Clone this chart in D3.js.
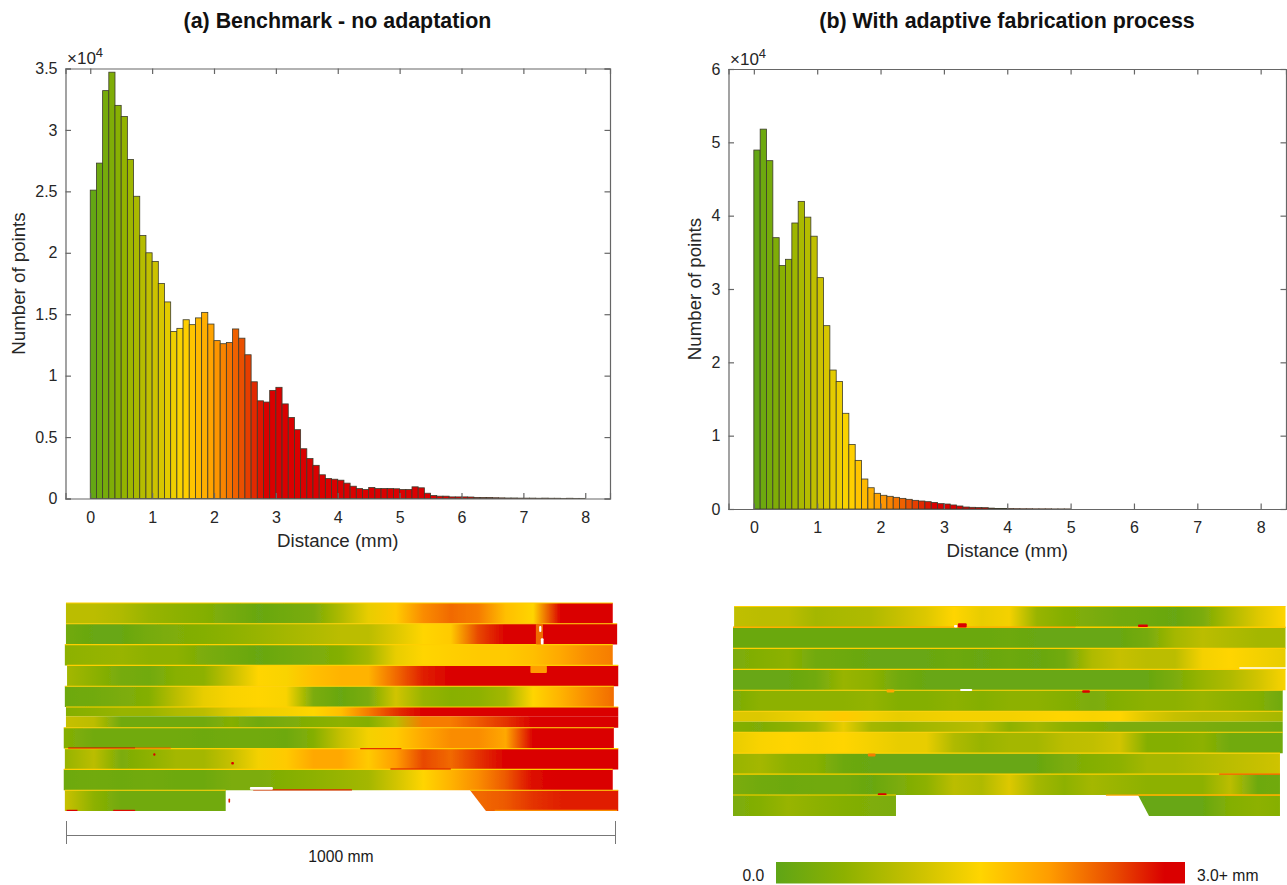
<!DOCTYPE html>
<html lang="en">
<head>
<meta charset="utf-8">
<script src="https://d3js.org/d3.v7.min.js"></script>
<style>
body { margin: 0; background: #fff; }
svg { display: block; }
text { font-family: "Liberation Sans", Arial, sans-serif; fill: #262626; }
.axis path, .axis line { stroke: #666; stroke-width: 1.2; fill: none; }
.axis text { font-size: 16px; fill: #262626; font-family: "Liberation Sans", Arial, sans-serif; }
.title { font-size: 21.4px; font-weight: bold; fill: #111; }
.label { font-size: 18.7px; }
.note { font-size: 15.7px; fill: #1a1a1a; }
</style>
</head>
<body>
<svg id="chart" width="1287" height="885"></svg>
<script>
// histogram counts, in units of 10^4, one value per 0.1 mm bin
var benchCounts = [2.51,2.73,3.32,3.47,3.20,3.11,2.76,2.46,2.14,2.00,1.93,1.75,1.60,1.36,1.385,1.455,1.415,1.47,1.515,1.42,
  1.285,1.26,1.27,1.38,1.305,1.17,0.95,0.795,0.785,0.88,0.905,0.77,0.66,0.56,0.405,0.325,0.27,0.193,0.163,0.157,
  0.149,0.125,0.10,0.081,0.073,0.09,0.081,0.081,0.081,0.079,0.073,0.073,0.095,0.087,0.043,0.024,0.019,0.019,0.013,0.013,
  0.013,0.012,0.009,0.008,0.008,0.006,0.005,0.004,0.004,0.003,0.003,0.003,0.002,0.003,0.002,0.002,0.001,0.002,0.001,0.001];
var adaptCounts = [4.895,5.18,4.75,3.70,3.32,3.405,3.90,4.195,3.98,3.72,3.155,2.50,1.895,1.74,1.305,0.88,0.663,0.409,0.29,0.214,
  0.187,0.173,0.159,0.145,0.132,0.118,0.109,0.10,0.09,0.073,0.068,0.055,0.041,0.027,0.023,0.02,0.018,0.012,0.008,0.006,
  0.005,0.004,0.003,0.003,0.002,0.002,0.002,0.001,0.001,0.001];

var xTicks = [0,1,2,3,4,5,6,7,8];
var benchYTicks = [0,0.5,1,1.5,2,2.5,3,3.5];
var adaptYTicks = [0,1,2,3,4,5,6];

// colour map: distance in mm -> colour
var colorStops = [0,0.5,1,1.5,2,2.5,2.85,3];
var colorValues = ["#5fa516","#8db100","#c6c000","#ffd500","#ff9d00","#e84800","#da0000","#da0000"];

// scan strips: distance (mm) sampled every 50 mm along the 1000 mm panel. Null = no material
var sampleMm = d3.range(21).map(function(i) { return i * 50; });
var benchStrips = [
  [0.9,0.9,0.8,0.6,0.5,0.4,0.25,0.1,0.2,0.3,0.8,1.3,1.6,2.1,2.3,2.2,1.7,1.5,3,3,3],
  [0.2,0.1,0.1,0.25,0.35,0.4,0.5,0.6,0.7,0.8,0.9,0.9,1.2,1.5,1.6,2.5,3,3,3,3,3],
  [0.5,0.55,0.6,0.5,0.5,0.3,0.2,0.1,0.2,0.3,0.4,0.7,1.3,1.5,1.55,1.6,1.6,1.7,1.9,2.1,2.2],
  [0.7,0.5,0.25,0.2,0.45,0.5,1.0,1.5,1.45,1.7,1.8,1.8,2.3,2.7,3,3,3,3,3,3,3],
  [0.15,0.2,0.3,0.4,0.9,1.3,1.45,1.5,1.45,0.3,0.1,0.3,1.1,0.6,0.45,0.5,0.7,1.5,1.8,2.1,2.3],
  [0.4,0.5,0.6,0.6,0.8,0.9,1.2,1.35,1.4,1.5,1.7,2.2,2.6,3,3,3,3,3,3,3,3],
  [1.0,0.9,0.2,0.2,0.2,0.2,0.4,0.2,0.3,0.4,0.5,0.4,0.9,2.2,2.2,2.4,2.6,3,3,3,3],
  [0.4,0.2,0.2,0.2,0.2,0.15,0.2,0.2,0.15,0.4,1.0,1.4,1.6,1.9,2.1,2.1,1.9,3,3,3,3],
  [0.6,0.9,0.3,0.5,0.7,0.7,1.0,1.4,1.6,1.9,1.9,1.6,2.0,2.5,2.3,2.6,2.9,3,3,3,3],
  [0.15,0.2,0.15,0.2,0.15,0.15,0.3,0.3,0.4,0.5,0.6,0.7,1.1,1.5,1.8,2.1,2.4,2.8,3,3,3],
  [1.0,0.5,0.2,0.2,0.2,0.2,0.2,null,null,null,null,null,null,null,2.4,2.3,2.4,2.6,2.7,2.7,2.7]
];
var adaptStrips = [
  [0.95,0.9,0.9,0.7,0.75,0.8,1.0,1.2,1.5,1.3,1.4,0.6,0.4,0.3,0.2,0.15,0.1,0.3,0.8,1.2,1.5],
  [0.12,0.12,0.12,0.12,0.12,0.12,0.12,0.12,0.12,0.12,0.15,0.1,0.1,0.1,0.1,0.25,0.7,0.9,0.8,0.7,0.7],
  [0.3,0.4,0.5,0.2,0.15,0.1,0.1,0.1,0.15,0.1,0.15,0.1,0.2,0.8,1.0,0.9,0.9,1.4,1.5,1.4,1.3],
  [0.1,0.1,0.1,0.2,0.6,0.5,0.2,0.1,0.1,0.1,0.1,0.1,0.1,0.1,0.1,0.1,0.3,0.6,0.8,1.1,1.45],
  [0.3,0.5,0.5,0.5,0.5,0.55,0.4,0.4,0.5,0.4,0.5,0.5,0.4,0.3,0.4,0.5,0.5,0.6,0.5,0.4,0.15],
  [1.2,1.2,1.3,1.4,1.6,1.4,1.3,1.35,1.4,1.4,1.4,1.45,1.5,1.45,1.5,1.2,1.0,0.9,0.9,0.8,0.7],
  [0.4,0.35,0.5,0.7,1.3,0.7,0.6,0.7,0.8,0.9,0.5,0.7,0.5,0.4,0.3,0.3,0.3,0.3,0.25,0.25,0.2],
  [1.3,1.45,1.5,1.45,1.5,1.4,1.3,1.3,0.8,0.6,0.7,0.7,0.9,0.95,1.1,0.4,0.4,0.5,0.2,0.2,0.2],
  [0.6,0.7,0.5,0.45,0.15,0.1,0.1,0.1,0.1,0.1,0.1,0.1,0.3,0.4,0.5,0.7,0.7,0.8,0.9,1.0,1.1],
  [0.3,0.2,0.15,0.2,0.2,0.1,0.3,0.5,0.9,0.8,1.2,0.7,0.5,0.7,0.6,0.5,0.5,0.5,0.9,0.15,0.2],
  [0.3,0.4,0.6,0.5,0.4,0.35,0.3,null,null,null,null,null,null,null,null,0.1,0.1,0.1,0.4,0.5,0.4]
];
// row where each lane starts; row 5 is split in two lanes
var benchLaneTop = [0,1,2,3,4,5,5.45,6,7,8,9];
var adaptLaneTop = [0,1,2,3,4,5,5.5,6,7,8,9];
var benchLaneFrom = [-1,-1,-3,1,-3,-1,-1,-5,-3,-5,-3];
var benchLaneTo = [995,1003,995,1005,997,1005,1005,997,1005,995,1005];
var adaptLaneFrom = [2,0,0,0,0,0,0,0,0,0,0];
var adaptLaneTo = [1000,1000,1000,1000,995,995,995,995,990,990,990];
// last strip is two pieces: left end, then chamfer start at top and bottom
var benchCut = [290,735,764];
var adaptCut = [295,733,753];

// thin edges along the strips: row, from mm, to mm, value
var benchEdges = [
  [6.97,3,125,3],[6.97,125,190,2.4],[7.98,590,700,3],[7.0,535,610,2.6],[8.98,340,520,2.7],
  [9.97,0,20,3],[9.97,85,125,2.8],[9.97,780,1003,2.1]
];
var adaptEdges = [
  [0.98,0,620,1.9],[0.98,620,1000,1.6],[8,880,990,2.4],[9,675,990,1.9]
];
// hot spots: mm, row, width mm, height rows, colour value (null = bare)
var benchSpots = [
  [855,1.0,13,1,2.3],[861,1.1,4,0.3,null],[864,1.7,5,0.3,null],[158,7.22,4,0.12,3],[300,7.65,5,0.12,3],
  [334,8.85,42,0.13,null],[845,3.02,30,0.35,2],[295,9.4,3,0.2,2.7]
];
var adaptSpots = [
  [407,0.8,16,0.2,3],[400,0.88,6,0.12,null],[733,0.86,18,0.12,3],[411,3.94,22,0.09,null],
  [278,3.96,14,0.14,1.9],[244,7.02,14,0.14,2.2],[262,8.92,16,0.08,3],[916,2.9,90,0.07,null],[632,4.0,14,0.12,3]
];

var color = d3.scaleLinear().domain(colorStops).range(colorValues).clamp(true);
var svg = d3.select("#chart");
var defs = svg.append("defs");
defs.append("filter").attr("id", "soft").append("feGaussianBlur").attr("stdDeviation", 0.5);

function drawHist(counts, yTicks, yMax, box, title, titleX, labelX) {
  var x = d3.scaleLinear().domain([-0.4, 8.4]).range([box.left, box.right]);
  var y = d3.scaleLinear().domain([0, yMax]).range([box.bottom, box.top]);
  var g = svg.append("g");

  g.selectAll("rect.bar")
    .data(counts)
    .enter()
    .append("rect")
    .attr("class", "bar")
    .attr("x", function(d, i) { return x(i / 10); })
    .attr("y", function(d) { return y(d); })
    .attr("width", function(d, i) { return x((i + 1) / 10) - x(i / 10); })
    .attr("height", function(d) { return y(0) - y(d); })
    .style("fill", function(d, i) { return color((i + 0.5) / 10); })
    .style("stroke", "#3c3c2c")
    .style("stroke-width", 0.8);

  // box round the plot, ticks pointing in on all four sides
  g.append("g").attr("class", "axis").attr("transform", "translate(0," + box.bottom + ")")
    .call(d3.axisBottom(x).tickValues(xTicks).tickSize(-5.5).tickPadding(13).tickFormat(d3.format("d")));
  g.append("g").attr("class", "axis").attr("transform", "translate(0," + box.top + ")")
    .call(d3.axisTop(x).tickValues(xTicks).tickSize(-5.5).tickFormat(""));
  g.append("g").attr("class", "axis").attr("transform", "translate(" + box.left + ",0)")
    .call(d3.axisLeft(y).tickValues(yTicks).tickSize(-5.5).tickPadding(8).tickFormat(d3.format("")));
  g.append("g").attr("class", "axis").attr("transform", "translate(" + box.right + ",0)")
    .call(d3.axisRight(y).tickValues(yTicks).tickSize(-5.5).tickFormat(""));

  g.append("text").attr("class", "title").attr("x", titleX).attr("y", 28)
    .attr("text-anchor", "middle").text(title);
  g.append("text").attr("class", "label").attr("x", x(4)).attr("y", box.bottom + 48)
    .attr("text-anchor", "middle").text("Distance (mm)");
  g.append("text").attr("class", "label")
    .attr("transform", "translate(" + labelX + "," + ((box.top + box.bottom) / 2) + ") rotate(-90)")
    .attr("text-anchor", "middle").text("Number of points");

  var mult = g.append("text").attr("x", box.left + 1.5).attr("y", box.top - 4.5).style("font-size", "17px");
  mult.append("tspan").text("\u00d710");
  mult.append("tspan").attr("dy", -7).style("font-size", "13px").text("4");
}

function drawStrips(id, strips, laneTop, laneFrom, laneTo, cut, edges, spots, xRange, yRange) {
  var x = d3.scaleLinear().domain([0, 1000]).range(xRange);
  var y = d3.scaleLinear().domain([0, 10]).range(yRange);
  var line = d3.line().x(function(d) { return x(d[0]); }).y(function(d) { return y(d[1]); });
  var g = svg.append("g").attr("filter", "url(#soft)");

  strips.forEach(function(vals, i) {
    var gid = id + "-lane" + i;
    var grad = defs.append("linearGradient").attr("id", gid)
      .attr("gradientUnits", "userSpaceOnUse")
      .attr("x1", x(0)).attr("x2", x(1000)).attr("y1", 0).attr("y2", 0);
    vals.forEach(function(v, j) {
      if (v === null) return;
      grad.append("stop").attr("offset", sampleMm[j] / 1000).attr("stop-color", color(v));
    });
    var top = laneTop[i];
    var bot = i + 1 < laneTop.length ? laneTop[i + 1] : 10;
    var pieces;
    if (vals.indexOf(null) >= 0) {
      pieces = [
        [[laneFrom[i], top], [cut[0], top], [cut[0], bot], [laneFrom[i], bot]],
        [[cut[1], top], [laneTo[i], top], [laneTo[i], bot], [cut[2], bot]]
      ];
    } else {
      pieces = [[[laneFrom[i], top], [laneTo[i], top], [laneTo[i], bot], [laneFrom[i], bot]]];
    }
    pieces.forEach(function(p) {
      g.append("path").attr("d", line(p) + "Z").style("fill", "url(#" + gid + ")");
      // thin yellow seam along the top of each whole strip
      if (Number.isInteger(top)) {
        g.append("path").attr("d", line([p[0], p[1]]))
          .style("stroke", color(1.55)).style("stroke-width", 1.1).style("fill", "none");
      }
    });
  });

  g.selectAll("path.edge").data(edges).enter().append("path").attr("class", "edge")
    .attr("d", function(d) { return line([[d[1], d[0]], [d[2], d[0]]]); })
    .style("stroke", function(d) { return color(d[3]); })
    .style("stroke-width", 1.2).style("fill", "none");

  g.selectAll("rect.spot").data(spots).enter().append("rect").attr("class", "spot")
    .attr("x", function(d) { return x(d[0]); })
    .attr("y", function(d) { return y(d[1]); })
    .attr("width", function(d) { return x(d[2]) - x(0); })
    .attr("height", function(d) { return y(d[3]) - y(0); })
    .attr("rx", 1)
    .style("fill", function(d) { return d[4] === null ? "#fff" : color(d[4]); });
}

drawHist(benchCounts, benchYTicks, 3.5, {left: 65.5, right: 610, top: 68.5, bottom: 498.5},
  "(a) Benchmark - no adaptation", 337.5, 25);
drawHist(adaptCounts, adaptYTicks, 6, {left: 728.5, right: 1286, top: 69, bottom: 509},
  "(b) With adaptive fabrication process", 1007, 701);

drawStrips("a", benchStrips, benchLaneTop, benchLaneFrom, benchLaneTo, benchCut, benchEdges, benchSpots, [66.5, 615.5], [603, 811]);
drawStrips("b", adaptStrips, adaptLaneTop, adaptLaneFrom, adaptLaneTo, adaptCut, adaptEdges, adaptSpots, [733, 1285.5], [606.5, 816]);

// scale bar under panel (a)
var scaleBar = d3.scaleLinear().domain([0, 1000]).range([66.5, 615.5]);
svg.append("g").attr("class", "axis").attr("transform", "translate(0,835)")
  .call(d3.axisBottom(scaleBar).tickValues([0, 1000]).tickSize(0).tickFormat(""))
  .call(function(s) { s.select("path").style("stroke", "#777").style("stroke-width", 1); });
[0, 1000].forEach(function(d) {
  svg.append("line").attr("x1", scaleBar(d)).attr("x2", scaleBar(d)).attr("y1", 821).attr("y2", 844)
    .style("stroke", "#777").style("stroke-width", 1);
});
svg.append("text").attr("class", "note").attr("x", 341).attr("y", 862).attr("text-anchor", "middle").text("1000 mm");

// colour bar
var barX = d3.scaleLinear().domain([0, 3]).range([776, 1185]);
var barGrad = defs.append("linearGradient").attr("id", "barGrad");
colorStops.forEach(function(s, i) {
  barGrad.append("stop").attr("offset", s / 3).attr("stop-color", colorValues[i]);
});
svg.append("rect").attr("x", barX(0)).attr("y", 862).attr("width", barX(3) - barX(0)).attr("height", 21.5)
  .style("fill", "url(#barGrad)");
svg.append("text").attr("class", "note").attr("x", 742.5).attr("y", 881).text("0.0");
svg.append("text").attr("class", "note").attr("x", 1197).attr("y", 881).text("3.0+ mm");
</script>
</body>
</html>
